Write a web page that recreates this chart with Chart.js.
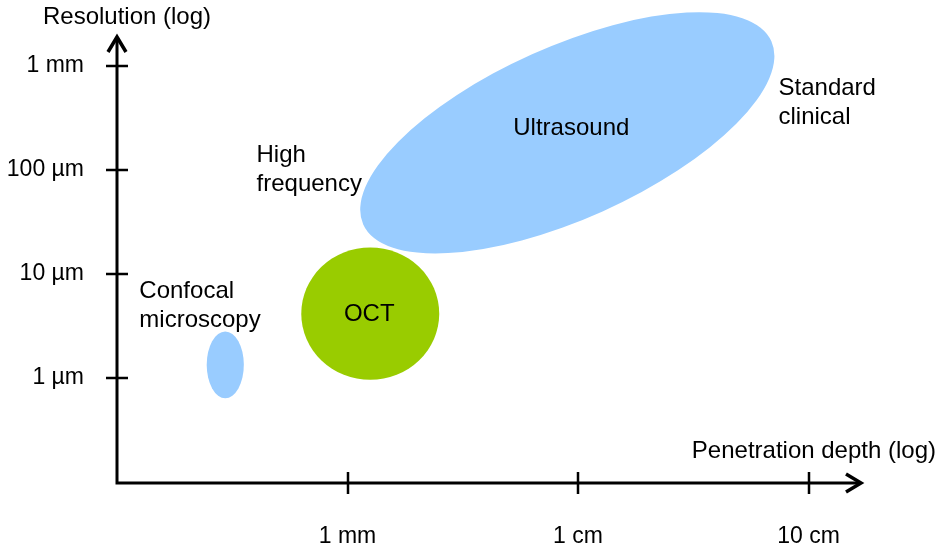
<!DOCTYPE html>
<html>
<head>
<meta charset="utf-8">
<script src="https://cdn.jsdelivr.net/npm/chart.js@4.4.1/dist/chart.umd.min.js"></script>
<style>
  html, body { margin: 0; padding: 0; background: #ffffff; }
  #wrap { width: 944px; height: 549px; position: relative; }
</style>
</head>
<body>
<div id="wrap"><canvas id="chart" width="944" height="549"></canvas></div>
<script>
// Imaging modalities: penetration depth (mm) against resolution (µm), both logarithmic.
const modalities = ['Confocal microscopy', 'OCT', 'Ultrasound'];
const regionText = ['', 'OCT', 'Ultrasound'];

// Confocal microscopy and OCT occupy a box in depth / resolution
const confocalDepthMm = [0.245, 0.355];
const confocalResolutionUm = [0.64, 2.8];
const octDepthMm = [0.63, 2.5];
const octResolutionUm = [0.96, 18];

// Ultrasound runs from high-frequency to standard clinical probes:
// ends of its long axis, plus how wide the band is relative to its length
const ultrasoundDepthMm = [1.17, 69];
const ultrasoundResolutionUm = [30, 1730];
const ultrasoundWidthRatio = 0.385;

// Axis ticks
const xTickValues = [1, 10, 100];
const xTickLabels = ['1 mm', '1 cm', '10 cm'];
const yTickValues = [1, 10, 100, 1000];
const yTickLabels = ['1 µm', '10 µm', '100 µm', '1 mm'];

// Axis titles and side notes
const yAxisTitle = 'Resolution (log)';
const xAxisTitle = 'Penetration depth (log)';
const noteLines = [['High', 'frequency'], ['Standard', 'clinical'], ['Confocal', 'microscopy']];
const noteDepthMm = [0.403, 74.1, 0.125];
const noteResolutionUm = [142, 628, 7.0];

// ---- styling ----
const FONT_FAMILY = '"Liberation Sans", Arial, Helvetica, sans-serif';
const FONT = '24px ' + FONT_FAMILY;
const BLUE = '#99ccff';
const GREEN = '#99cc00';
const INK = '#000000';
// nudge of each region's own label from the region centre (px)
const regionTextNudge = [[0, 0], [-1, 1], [4, -4]];

const regions = [
  { kind: 'box', depth: confocalDepthMm, res: confocalResolutionUm, color: BLUE },
  { kind: 'box', depth: octDepthMm, res: octResolutionUm, color: GREEN },
  { kind: 'axis', depth: ultrasoundDepthMm, res: ultrasoundResolutionUm, ratio: ultrasoundWidthRatio, color: BLUE }
];

function ellipseGeometry(r, xs, ys) {
  const x0 = xs.getPixelForValue(r.depth[0]), x1 = xs.getPixelForValue(r.depth[1]);
  const y0 = ys.getPixelForValue(r.res[0]), y1 = ys.getPixelForValue(r.res[1]);
  if (r.kind === 'box') {
    return { cx: (x0 + x1) / 2, cy: (y0 + y1) / 2, a: Math.abs(x1 - x0) / 2, b: Math.abs(y1 - y0) / 2, rot: 0 };
  }
  const a = Math.hypot(x1 - x0, y1 - y0) / 2;
  return { cx: (x0 + x1) / 2, cy: (y0 + y1) / 2, a: a, b: a * r.ratio, rot: Math.atan2(y1 - y0, x1 - x0) };
}

const regionPlugin = {
  id: 'regions',
  beforeDatasetsDraw(chart) {
    const ctx = chart.ctx, xs = chart.scales.x, ys = chart.scales.y;
    ctx.save();
    // ultrasound first so the smaller regions sit on top
    [2, 0, 1].forEach(i => {
      const g = ellipseGeometry(regions[i], xs, ys);
      ctx.beginPath();
      ctx.ellipse(g.cx, g.cy, g.a, g.b, g.rot, 0, Math.PI * 2);
      ctx.fillStyle = regions[i].color;
      ctx.fill();
    });
    ctx.font = FONT;
    ctx.fillStyle = INK;
    ctx.textAlign = 'center';
    ctx.textBaseline = 'middle';
    regions.forEach((r, i) => {
      if (!regionText[i]) return;
      const g = ellipseGeometry(r, xs, ys);
      ctx.fillText(regionText[i], g.cx + regionTextNudge[i][0], g.cy + regionTextNudge[i][1]);
    });
    ctx.textAlign = 'left';
    noteLines.forEach((lines, i) => {
      const x = xs.getPixelForValue(noteDepthMm[i]);
      const y = ys.getPixelForValue(noteResolutionUm[i]);
      lines.forEach((t, k) => ctx.fillText(t, x, y + 1 + k * 29));
    });
    ctx.restore();
  },
  afterDraw(chart) {
    const ctx = chart.ctx, xs = chart.scales.x, ys = chart.scales.y;
    const area = chart.chartArea;
    const ox = area.left, oy = area.bottom - 1;
    ctx.save();
    ctx.strokeStyle = INK;
    ctx.lineWidth = 3;
    ctx.lineCap = 'butt';
    ctx.lineJoin = 'miter';
    // axis lines
    ctx.beginPath();
    ctx.moveTo(ox, area.top + 2);
    ctx.lineTo(ox, oy);
    ctx.lineTo(area.right - 2, oy);
    ctx.stroke();
    // arrow heads
    ctx.lineWidth = 3.5;
    ctx.beginPath();
    ctx.moveTo(ox - 9, area.top + 16);
    ctx.lineTo(ox, area.top + 1);
    ctx.lineTo(ox + 9, area.top + 16);
    ctx.moveTo(area.right - 16, oy - 9);
    ctx.lineTo(area.right - 1, oy);
    ctx.lineTo(area.right - 16, oy + 9);
    ctx.stroke();
    // tick marks crossing the axes
    ctx.lineWidth = 2.5;
    ctx.beginPath();
    xTickValues.forEach(v => {
      const x = Math.round(xs.getPixelForValue(v));
      ctx.moveTo(x, oy - 11);
      ctx.lineTo(x, oy + 11);
    });
    yTickValues.forEach(v => {
      const y = Math.round(ys.getPixelForValue(v));
      ctx.moveTo(ox - 11, y);
      ctx.lineTo(ox + 11, y);
    });
    ctx.stroke();
    // axis titles
    ctx.font = FONT;
    ctx.fillStyle = INK;
    ctx.textBaseline = 'middle';
    ctx.textAlign = 'center';
    ctx.fillText(yAxisTitle, ox + 10, 17);
    ctx.textAlign = 'right';
    ctx.fillText(xAxisTitle, 936, oy - 32);
    ctx.restore();
  }
};

function fixedTicks(values) {
  return scale => { scale.ticks = values.map(v => ({ value: v })); };
}

const datasets = regions.map((r, i) => ({
  label: modalities[i],
  data: [{ x: r.depth[0], y: r.res[0] }, { x: r.depth[1], y: r.res[1] }],
  pointRadius: 0,
  pointHoverRadius: 0,
  showLine: false,
  backgroundColor: r.color,
  borderColor: r.color
}));

new Chart(document.getElementById('chart'), {
  type: 'scatter',
  data: { datasets: datasets },
  options: {
    responsive: false,
    animation: false,
    devicePixelRatio: 1,
    events: [],
    layout: { padding: { left: 0, top: 36, right: 82, bottom: 0 } },
    plugins: { legend: { display: false }, tooltip: { enabled: false }, title: { display: false } },
    scales: {
      x: {
        type: 'logarithmic',
        min: 0.1,
        max: 170.6,
        grid: { display: false, drawTicks: false },
        border: { display: false },
        afterBuildTicks: fixedTicks(xTickValues),
        afterFit: s => { s.height = 65; s.paddingLeft = 0; s.paddingRight = 0; },
        ticks: {
          autoSkip: false, maxRotation: 0, padding: 39,
          color: INK,
          font: { family: FONT_FAMILY, size: 23 },
          callback: v => xTickLabels[xTickValues.indexOf(v)]
        }
      },
      y: {
        type: 'logarithmic',
        min: 0.0957,
        max: 1943,
        grid: { display: false, drawTicks: false },
        border: { display: false },
        afterBuildTicks: fixedTicks(yTickValues),
        afterFit: s => { s.width = 117; s.paddingTop = 0; s.paddingBottom = 0; },
        ticks: {
          autoSkip: false, padding: 33,
          color: INK,
          font: { family: FONT_FAMILY, size: 23 },
          callback: v => yTickLabels[yTickValues.indexOf(v)]
        }
      }
    }
  },
  plugins: [regionPlugin]
});
</script>
</body>
</html>
